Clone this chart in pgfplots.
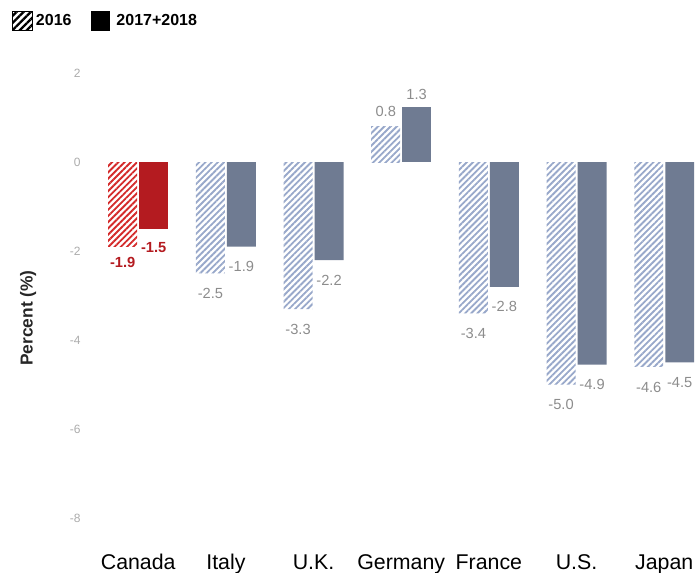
\documentclass[border=0pt]{standalone}
\usepackage{fontspec}
\setmainfont{Liberation Sans}
\usepackage{pgfplots}
\usepackage{pgfplotstable}
\pgfplotsset{compat=1.18}
\usetikzlibrary{patterns.meta}
\definecolor{redH}{HTML}{D42A2A}
\definecolor{redS}{HTML}{B41B20}
\definecolor{grayS}{HTML}{6F7B92}
\definecolor{grayH}{HTML}{98A8CA}
\definecolor{lblgray}{HTML}{8C8C8C}
\definecolor{tickgray}{HTML}{ABABAB}

\pgfplotstableread{
x y l
1 -2.5 -2.5
2 -3.3 -3.3
4 -3.4 -3.4
5 -5.0 -5.0
6 -4.6 -4.6
}\othersA
\pgfplotstableread{
x y l
1 -1.9 -1.9
2 -2.2 -2.2
4 -2.8 -2.8
5 -4.55 -4.9
6 -4.5 -4.5
}\othersB
\pgfplotstableread{
x y l
0 -1.9 -1.9
}\canadaA
\pgfplotstableread{
x y l
0 -1.5 -1.5
}\canadaB
\pgfplotstableread{
x y l
3 0.8 0.8
}\germanyA
\pgfplotstableread{
x y l
3 1.25 1.3
}\germanyB

\tikzset{hatch/.style={pattern={Lines[angle=45,distance=3.3pt,line width=1.4pt]}}}

\begin{document}
\begin{tikzpicture}
\begin{axis}[
  at={(0,0)}, anchor=south west,
  scale only axis, width=455.4pt, height=360.45pt,
  xmin=-0.55, xmax=6.376, ymin=-8.4, ymax=2.4,
  axis line style={draw=none}, major tick length=0pt,
  xtick={0,...,6},
  xticklabels={Canada,Italy,U.K.,Germany,France,U.S.,Japan},
  xticklabel style={anchor=base, yshift=-25pt, font=\fontsize{16}{18}\selectfont, text=black},
  ytick={-8,-6,-4,-2,0,2},
  yticklabel style={anchor=east, xshift=-3.5pt, font=\fontsize{9}{10}\selectfont, text=tickgray},
  /pgf/number format/assume math mode=true,
  ylabel={\bfseries Percent (\%)},
  ylabel style={at={(axis description cs:-0.102,0.4536)}, anchor=center, rotate=0, font=\fontsize{13}{15}\selectfont, text=black!85},
  point meta=explicit symbolic,
  legend style={at={(rel axis cs:-0.1305,1.0716)}, anchor=west, draw=none, fill=none,
    font=\bfseries\fontsize{12}{14}\selectfont, inner sep=0pt,
    /tikz/every even column/.append style={column sep=12.5pt}},
  legend columns=2,
  legend cell align=left,
]
\addlegendimage{legend image code/.code={\fill[pattern={Lines[angle=45,distance=3.8pt,line width=1.7pt]}, pattern color=black] (0pt,-7pt) rectangle (15pt,7pt);}}
\addlegendentry{2016}
\addlegendimage{legend image code/.code={\path[draw=none,fill=none] (0pt,-7pt) rectangle (17pt,7pt); \fill[black] (0pt,-7pt) rectangle (13.5pt,7pt);}}
\addlegendentry{2017+2018}

% others
\addplot[forget plot, ybar, bar width=0.33, bar shift=-0.177, draw=none, hatch, pattern color=grayH,
  nodes near coords, nodes near coords style={anchor=north, inner sep=0pt, xshift=-11.6pt, yshift=-11pt, font=\fontsize{11}{13}\selectfont, text=lblgray}]
  table[x=x, y=y, meta=l] {\othersA};
\addplot[forget plot, ybar, bar width=0.33, bar shift=0.177, draw=none, fill=grayS,
  nodes near coords, nodes near coords style={anchor=north, inner sep=0pt, xshift=11.6pt, yshift=-11pt, font=\fontsize{11}{13}\selectfont, text=lblgray}]
  table[x=x, y=y, meta=l] {\othersB};
% Canada
\addplot[forget plot, ybar, bar width=0.33, bar shift=-0.177, draw=none, hatch, pattern color=redH,
  nodes near coords, nodes near coords style={anchor=north, inner sep=0pt, xshift=-11.6pt, yshift=-8pt, font=\bfseries\fontsize{11}{13}\selectfont, text=redS}]
  table[x=x, y=y, meta=l] {\canadaA};
\addplot[forget plot, ybar, bar width=0.33, bar shift=0.177, draw=none, fill=redS,
  nodes near coords, nodes near coords style={anchor=north, inner sep=0pt, xshift=11.6pt, yshift=-10pt, font=\bfseries\fontsize{11}{13}\selectfont, text=redS}]
  table[x=x, y=y, meta=l] {\canadaB};
% Germany
\addplot[forget plot, ybar, bar width=0.33, bar shift=-0.177, draw=none, hatch, pattern color=grayH,
  nodes near coords, nodes near coords style={anchor=south, inner sep=0pt, xshift=-11.6pt, yshift=7pt, font=\fontsize{11}{13}\selectfont, text=lblgray}]
  table[x=x, y=y, meta=l] {\germanyA};
\addplot[forget plot, ybar, bar width=0.33, bar shift=0.177, draw=none, fill=grayS,
  nodes near coords, nodes near coords style={anchor=south, inner sep=0pt, xshift=11.6pt, yshift=5pt, font=\fontsize{11}{13}\selectfont, text=lblgray}]
  table[x=x, y=y, meta=l] {\germanyB};
\end{axis}
\pgfresetboundingbox
\useasboundingbox (-67.5pt,-27.75pt) rectangle (455.25pt,402pt);
\end{tikzpicture}
\end{document}
